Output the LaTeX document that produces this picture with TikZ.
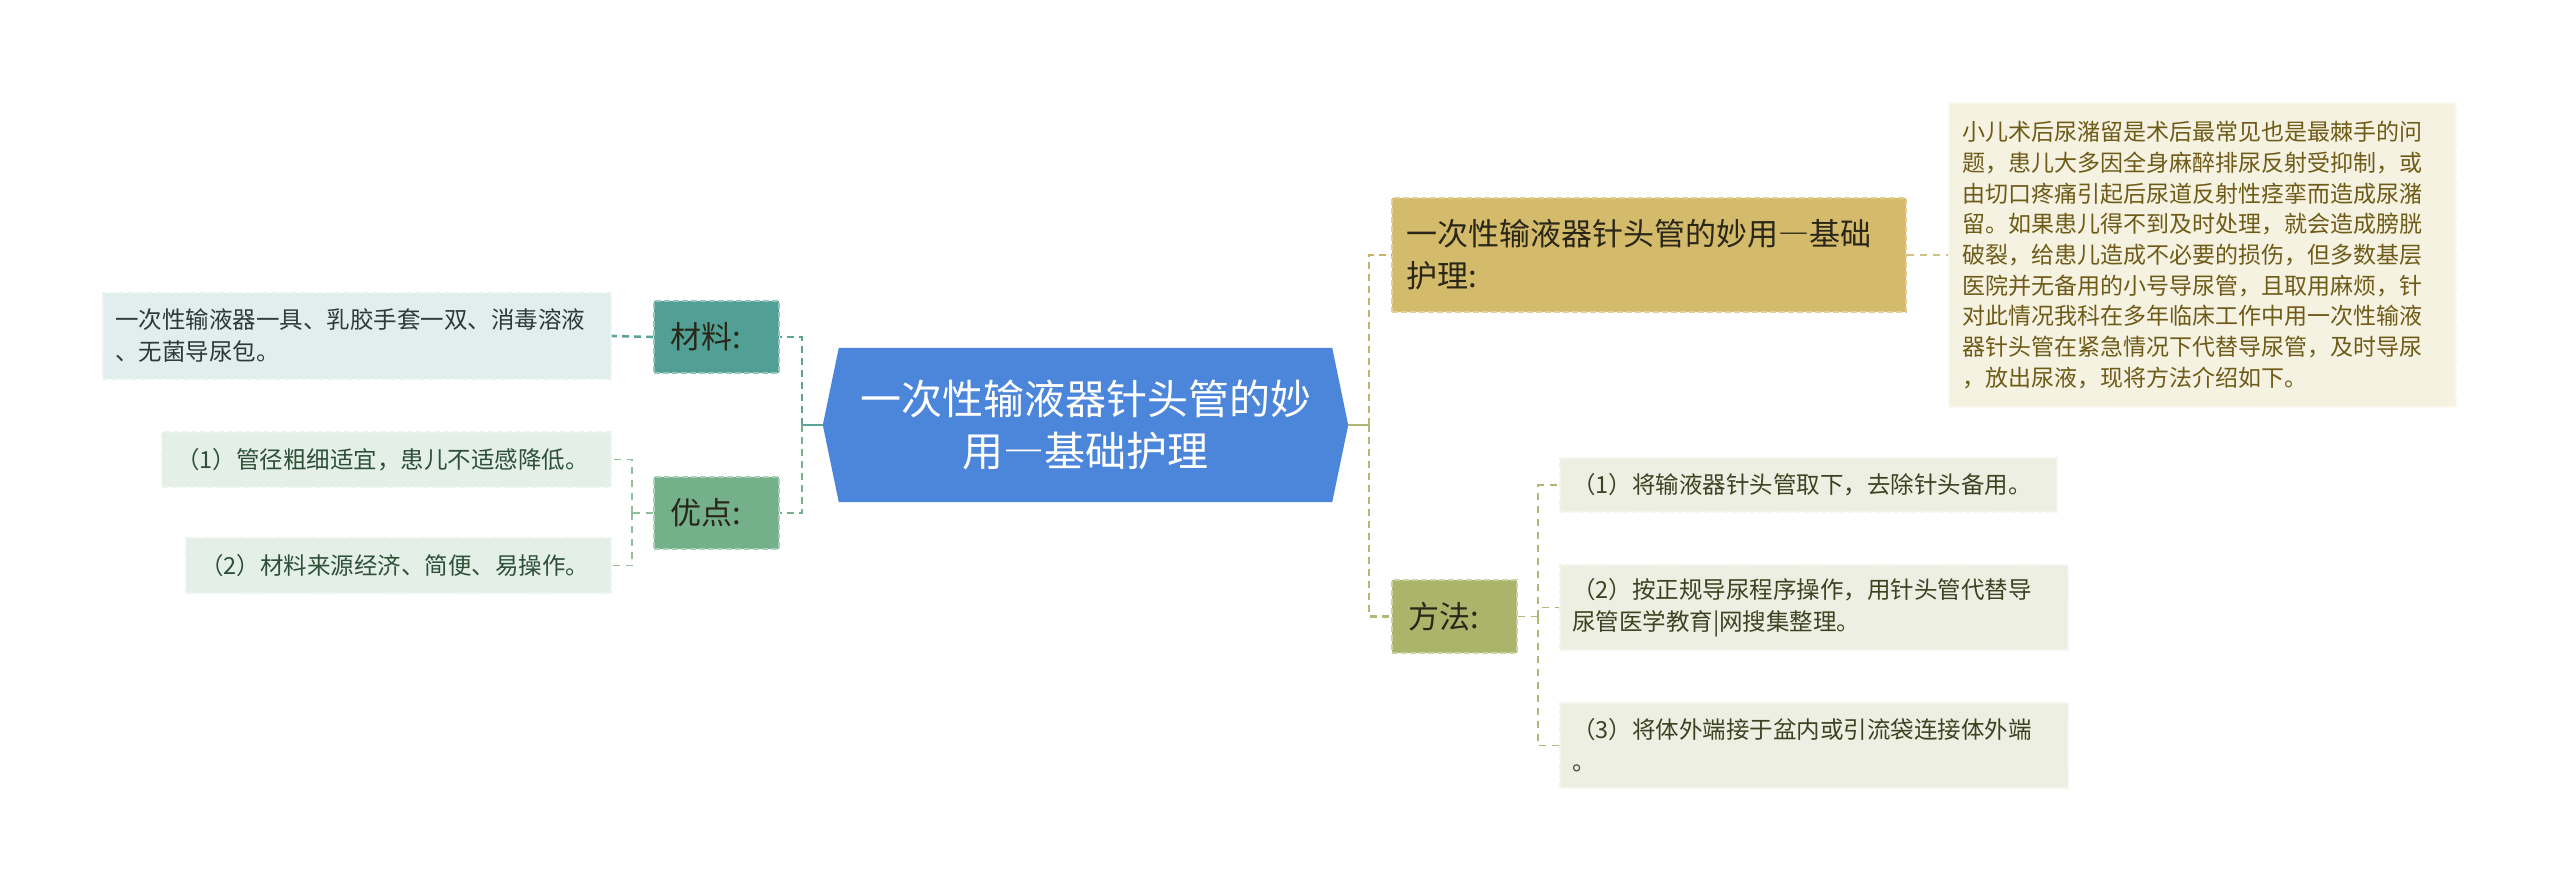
\documentclass[tikz,border=0pt]{standalone}
\usepackage{fontspec}
\setmainfont{Noto Sans CJK SC}
\usetikzlibrary{backgrounds}
\newcommand{\fwdash}{{\addfontfeature{RawFeature=+fwid}—}}
\definecolor{rootc}{HTML}{4B86DB}
\definecolor{matc}{HTML}{52A095}
\definecolor{advc}{HTML}{74B08A}
\definecolor{leafa}{HTML}{E0EEED}
\definecolor{leafb}{HTML}{E4EFE8}
\definecolor{txta}{HTML}{2D3A38}
\definecolor{txtb}{HTML}{2E5038}
\definecolor{titc}{HTML}{D4BB6B}
\definecolor{titt}{HTML}{2A2618}
\definecolor{bigc}{HTML}{F5F2E2}
\definecolor{bigt}{HTML}{6E5B17}
\definecolor{metc}{HTML}{AAB46B}
\definecolor{leafm}{HTML}{EEEFE3}
\definecolor{txtm}{HTML}{3D4322}
\definecolor{lconn}{HTML}{5AA396}
\definecolor{aconn}{HTML}{8DBF9C}
\definecolor{tconn}{HTML}{C6B36A}
\definecolor{mconn}{HTML}{B0B777}
\begin{document}
\begin{tikzpicture}[x=1pt,y=-1pt,
  boxbase/.style={rectangle, inner ysep=0pt, align=left, dash pattern=on 6pt off 3pt, line width=1.6pt},
  leaffont/.style={font=\fontsize{23.5}{32}\selectfont},
  lvlfont/.style={font=\fontsize{31}{42}\selectfont},
  mainconn/.style={line width=2.6pt, dash pattern=on 7pt off 5pt},
  leafconn/.style={line width=1.6pt, dash pattern=on 7pt off 6pt},
]
\useasboundingbox (0,0) rectangle (2560,893);

% central node
\node[minimum width=525pt, minimum height=154pt, inner sep=0pt, align=center,
      text=white, font=\fontsize{41}{52}\selectfont] (root) at (1085.5,425)
      {一次性输液器针头管的妙\\用\fwdash 基础护理};
\begin{scope}[on background layer]
\fill[white] (0,0) rectangle (2560,893);
\fill[rootc] (root.west) -- ([xshift=16pt]root.north west) -- ([xshift=-16pt]root.north east)
  -- (root.east) -- ([xshift=-16pt]root.south east) -- ([xshift=16pt]root.south west) -- cycle;
\end{scope}

% left level-1 nodes
\node[boxbase, lvlfont, fill=matc, draw=matc!60!white, text=titt, minimum width=125pt, minimum height=72pt,
      inner xsep=16pt, text width=93pt] (cl) at (716.5,337) {材料:};
\node[boxbase, lvlfont, fill=advc, draw=advc!60!white, text=titt, minimum width=125pt, minimum height=72pt,
      inner xsep=16pt, text width=93pt] (yd) at (716.5,513) {优点:};

% left leaves
\node[boxbase, leaffont, fill=leafa, draw=leafa!70!white, text=txta, minimum width=508pt, minimum height=86pt,
      inner xsep=12pt, text width=484pt] (l1) at (357,336)
      {一次性输液器一具、乳胶手套一双、消毒溶液\\、无菌导尿包。};
\node[boxbase, leaffont, fill=leafb, draw=leafb!70!white, text=txtb, minimum width=449pt, minimum height=55pt,
      inner xsep=14pt, text width=421pt] (a1) at (386.5,459.5)
      {（1）管径粗细适宜，患儿不适感降低。};
\node[boxbase, leaffont, fill=leafb, draw=leafb!70!white, text=txtb, minimum width=425pt, minimum height=55pt,
      inner xsep=14pt, text width=397pt] (a2) at (398.5,565.5)
      {（2）材料来源经济、简便、易操作。};

% right level-1 nodes
\node[boxbase, lvlfont, fill=titc, draw=titc!70!white, text=titt, minimum width=514pt, minimum height=114pt,
      inner xsep=14pt, text width=486pt] (tt) at (1649,255)
      {一次性输液器针头管的妙用\fwdash 基础\\护理:};
\node[boxbase, lvlfont, fill=metc, draw=metc!60!white, text=titt, minimum width=125pt, minimum height=73pt,
      inner xsep=16pt, text width=93pt] (ff) at (1454.5,616.5) {方法:};

% big text box
\node[boxbase, fill=bigc, draw=bigc!60!white, text=bigt, minimum width=507pt, minimum height=304pt,
      inner xsep=13pt, text width=481pt, font=\fontsize{23}{30.7}\selectfont] (big) at (2202.5,255)
      {小儿术后尿潴留是术后最常见也是最棘手的问\\
       题，患儿大多因全身麻醉排尿反射受抑制，或\\
       由切口疼痛引起后尿道反射性痉挛而造成尿潴\\
       留。如果患儿得不到及时处理，就会造成膀胱\\
       破裂，给患儿造成不必要的损伤，但多数基层\\
       医院并无备用的小号导尿管，且取用麻烦，针\\
       对此情况我科在多年临床工作中用一次性输液\\
       器针头管在紧急情况下代替导尿管，及时导尿\\
       ，放出尿液，现将方法介绍如下。};

% method leaves
\node[boxbase, leaffont, fill=leafm, draw=leafm!60!white, text=txtm, minimum width=497pt, minimum height=54pt,
      inner xsep=12pt, text width=473pt] (m1) at (1808.5,485)
      {（1）将输液器针头管取下，去除针头备用。};
\node[boxbase, leaffont, fill=leafm, draw=leafm!60!white, text=txtm, minimum width=508pt, minimum height=85pt,
      inner xsep=12pt, text width=484pt] (m2) at (1814,607.5)
      {（2）按正规导尿程序操作，用针头管代替导\\尿管医学教育|网搜集整理。};
\node[boxbase, leaffont, fill=leafm, draw=leafm!60!white, text=txtm, minimum width=508pt, minimum height=85pt,
      inner xsep=12pt, text width=484pt] (m3) at (1814,745.5)
      {（3）将体外端接于盆内或引流袋连接体外端\\。};

% junction coordinates
\coordinate (lj) at (802,425);
\coordinate (yj) at (632,513);
\coordinate (rj) at (1369,425);
\coordinate (mj) at (1538,616.5);

% left connectors
\draw[lconn, line width=2.6pt] (root.west) -- (lj);
\draw[lconn, mainconn] (lj) |- (cl.east);
\draw[advc, mainconn] (lj) |- (yd.east);
\draw[lconn, mainconn] (cl.west) -- (l1.east);
\draw[aconn, leafconn] (yd.west) -- (yj);
\draw[aconn, leafconn] (yj) |- (a1.east);
\draw[aconn, leafconn] (yj) |- (a2.east);

% right connectors
\draw[mconn, line width=2.6pt] (root.east) -- (rj);
\draw[tconn, mainconn] (rj) |- (tt.west);
\draw[mconn, mainconn] (rj) |- (ff.west);
\draw[tconn!80!white, leafconn] (tt.east) -- (big.west);
\draw[mconn, leafconn] (ff.east) -- (mj);
\draw[mconn, leafconn] (mj) |- (m1.west);
\draw[mconn, leafconn] (mj) |- (m2.west);
\draw[mconn, leafconn] (mj) |- (m3.west);
\end{tikzpicture}
\end{document}
